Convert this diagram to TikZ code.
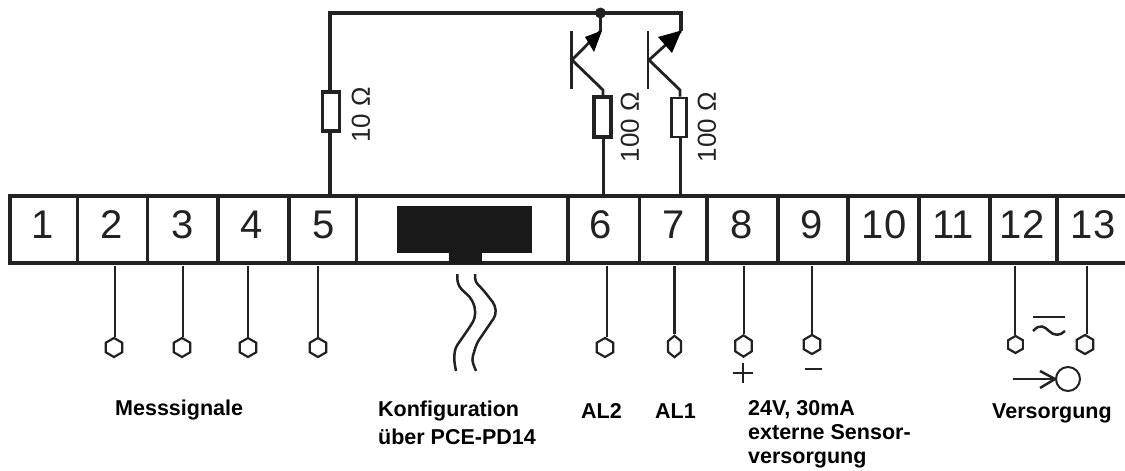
\documentclass[tikz,border=0pt]{standalone}
\usepackage{fontspec}
\setmainfont{Liberation Sans}
\usetikzlibrary{shapes.geometric,arrows.meta}
\definecolor{ink}{HTML}{222222}
\tikzset{
  bar/.style={draw=ink,line width=4pt,line cap=butt},
  wire/.style={draw=ink,line width=2.5pt},
  rail/.style={draw=ink,line width=3.3pt,line join=miter},
  num/.style={text=ink,font=\fontsize{40}{40}\selectfont,inner sep=0pt,anchor=center},
  lab/.style={text=black,font=\fontsize{21.5}{21.5}\selectfont\bfseries,inner sep=0pt,anchor=base west},
  ohm/.style={text=ink,font=\fontsize{26}{26}\selectfont,inner sep=0pt,rotate=90,anchor=center},
  res/.style={draw=ink,fill=white,rectangle,inner sep=0pt,minimum width=#1},
  hexa/.style={draw=ink,line width=2.2pt,fill=white,regular polygon,regular polygon sides=6,shape border rotate=30,inner sep=0pt,minimum size=19pt},
  thin hexa/.style={hexa,xscale=.8,yscale=1.12,transform shape},
  solid black/.style={fill=black!90!white,draw=none,rectangle,inner sep=0pt,anchor=north west},
}
\begin{document}
\begin{tikzpicture}[x=1pt,y=-1pt]
\useasboundingbox (0,0) rectangle (1125,471);
\fill[white] (0,0) rectangle (1125,471);
% terminal strip
\coordinate (bl) at (9.5,263);
\coordinate (tl) at (9.5,195.5);
\coordinate (tr) at (1125,195.5);
\coordinate (br) at (1125,263);
\draw[bar,line join=miter] (tr) -- (tl) -- (bl) -- (br);
\foreach \n/\x in {a/77.5,b/147.5,c/218,d/289,e/356.5,f/568,g/639.5,h/707,i/778,j/848,k/919,l/990,m/1057}{
  \coordinate (t\n) at (\x,195.5);
  \coordinate (u\n) at (\x,263);
  \draw[draw=ink,line width=3.2pt] (t\n) -- (u\n);
}
\foreach \t/\x in {1/43,2/112,3/183,4/252,5/324,6/601,7/674,8/742,9/812,10/884,11/953,12/1022,13/1093}{
  \node[num] (n\t) at (\x,225) {\t};
}
% programming connector
\node[solid black,minimum width=135pt,minimum height=47pt] (plug) at (397,206) {};
\node[solid black,minimum width=33pt,minimum height=12pt] (stem) at (449,252) {};
% cable
\draw[draw=ink,line width=2.5pt,rounded corners=4pt] (457.3,274) -- (457.3,283) -- (461.7,290) -- (470,296.7) -- (475,306.7) -- (475,318.3) -- (470,326.7) -- (455,348.3) -- (454,360) -- (456,371);
\draw[draw=ink,line width=2.5pt,rounded corners=4pt] (475,274) -- (475,281.7) -- (483.3,290) -- (495,305) -- (496,315) -- (476.7,343.3) -- (471.7,360) -- (476,371);
% top circuit
\coordinate (c5) at (330,195);
\coordinate (cr) at (330,13);
\coordinate (e1) at (600.5,31);
\coordinate (rt) at (681,13);
\coordinate (e2) at (681,31);
\coordinate (j1) at (600.5,13);
\fill[ink] (j1) circle (5.5);
\draw[rail] (c5) -- (cr) -- (rt) -- (e2);
\draw[rail] (j1) -- (e1);
\node[res,minimum width=17pt,minimum height=39pt,line width=3.2pt] (r10) at (331,111.5) {};
\node[res,minimum width=17pt,minimum height=40pt,line width=3.2pt] (r1) at (602.5,117) {};
\node[res,minimum width=15.5pt,minimum height=39pt,line width=2.8pt] (r2) at (679,117.5) {};
\node[ohm] (l10) at (361,115) {10 Ω};
\node[ohm] (l1) at (630,127) {100 Ω};
\node[ohm] (l2) at (707,127) {100 Ω};
% transistor 1
\coordinate (b1t) at (571.5,31);
\coordinate (b1b) at (571.5,89);
\coordinate (b1) at (572,60);
\coordinate (k1) at (603,90);
\coordinate (s6) at (603,195);
\draw[wire,line width=2.8pt] (b1t) -- (b1b);
\draw[wire,line width=2.8pt] (b1) -- (e1);
\fill[black] (e1) ++(1.5,-0.5) -- (585,37) -- (594,52) -- cycle;
\draw[wire,line width=2.8pt] (b1) -- (k1) -- (r1.north -| k1);
\draw[wire,line width=3pt] (r1.south -| s6) -- (s6);
% transistor 2
\coordinate (b2t) at (648,31);
\coordinate (b2b) at (648,89);
\coordinate (b2) at (649,60);
\coordinate (k2) at (680,90);
\coordinate (s7) at (680,195);
\draw[wire,line width=2.8pt] (b2t) -- (b2b);
\draw[wire,line width=2.8pt] (b2) -- (e2);
\fill[black] (e2) ++(0.5,-0.5) -- (658,37) -- (672,53) -- cycle;
\draw[wire,line width=2.8pt] (b2) -- (k2) -- (r2.north -| k2);
\draw[wire,line width=3pt] (r2.south -| s7) -- (s7);
% terminals
\node[hexa] (h2) at (114,347.5) {};
\node[hexa] (h3) at (182,347.5) {};
\node[hexa] (h4) at (248,347.5) {};
\node[hexa] (h5) at (318,347.5) {};
\node[hexa] (h6) at (605,347.5) {};
\node[thin hexa] (h7) at (674.5,346.5) {};
\node[hexa,yscale=1.12,transform shape] (h8) at (743.5,346) {};
\node[hexa] (h9) at (812,344.5) {};
\node[hexa,minimum size=17pt] (h12) at (1015.5,344.5) {};
\node[hexa] (h13) at (1085,344.5) {};
\foreach \k/\x in {2/115,3/183,4/248,5/318,6/607,7/674.5,8/744,9/812,12/1015,13/1087}{
  \coordinate (s\k) at (\x,266);
  \draw[wire] (s\k) -- (s\k |- h\k.north);
}
% supply symbols
\coordinate (o1) at (1033,317);
\coordinate (o2) at (1065,317);
\draw[wire] (o1) -- (o2);
\draw[wire] (1033,331) .. controls (1040,323) and (1045,327) .. (1049,331) .. controls (1054,336) and (1060,336) .. (1065,331);
\node[circle,draw=ink,line width=2pt,inner sep=0pt,minimum size=24pt] (ring) at (1068,379) {};
\coordinate (as) at (1013,379);
\coordinate (a1) at (1040,371);
\coordinate (a2) at (1040,388);
\draw[wire] (as) -- (ring.west);
\draw[wire] (a1) -- (ring.west) -- (a2);
% plus, minus
\coordinate (pl) at (733,373);
\coordinate (pr) at (753,373);
\coordinate (pt) at (743,363);
\coordinate (pb) at (743,383);
\draw[wire,line width=2pt] (pl) -- (pr);
\draw[wire,line width=2pt] (pt) -- (pb);
\coordinate (ml) at (805,369);
\coordinate (mr) at (822,369);
\draw[wire] (ml) -- (mr);
% labels
\node[lab] (tmess) at (115,415) {Messsignale};
\node[lab] (tkon) at (378,416) {Konfiguration};
\node[lab] (tpce) at (378,444) {über PCE-PD14};
\node[lab] (tal2) at (581,418) {AL2};
\node[lab] (tal1) at (655,418) {AL1};
\node[lab] (t24) at (748,415) {24V, 30mA};
\node[lab] (text) at (748,439) {externe Sensor-};
\node[lab] (tver) at (748,463) {versorgung};
\node[lab] (tvers) at (992,418) {Versorgung};
\end{tikzpicture}
\end{document}
